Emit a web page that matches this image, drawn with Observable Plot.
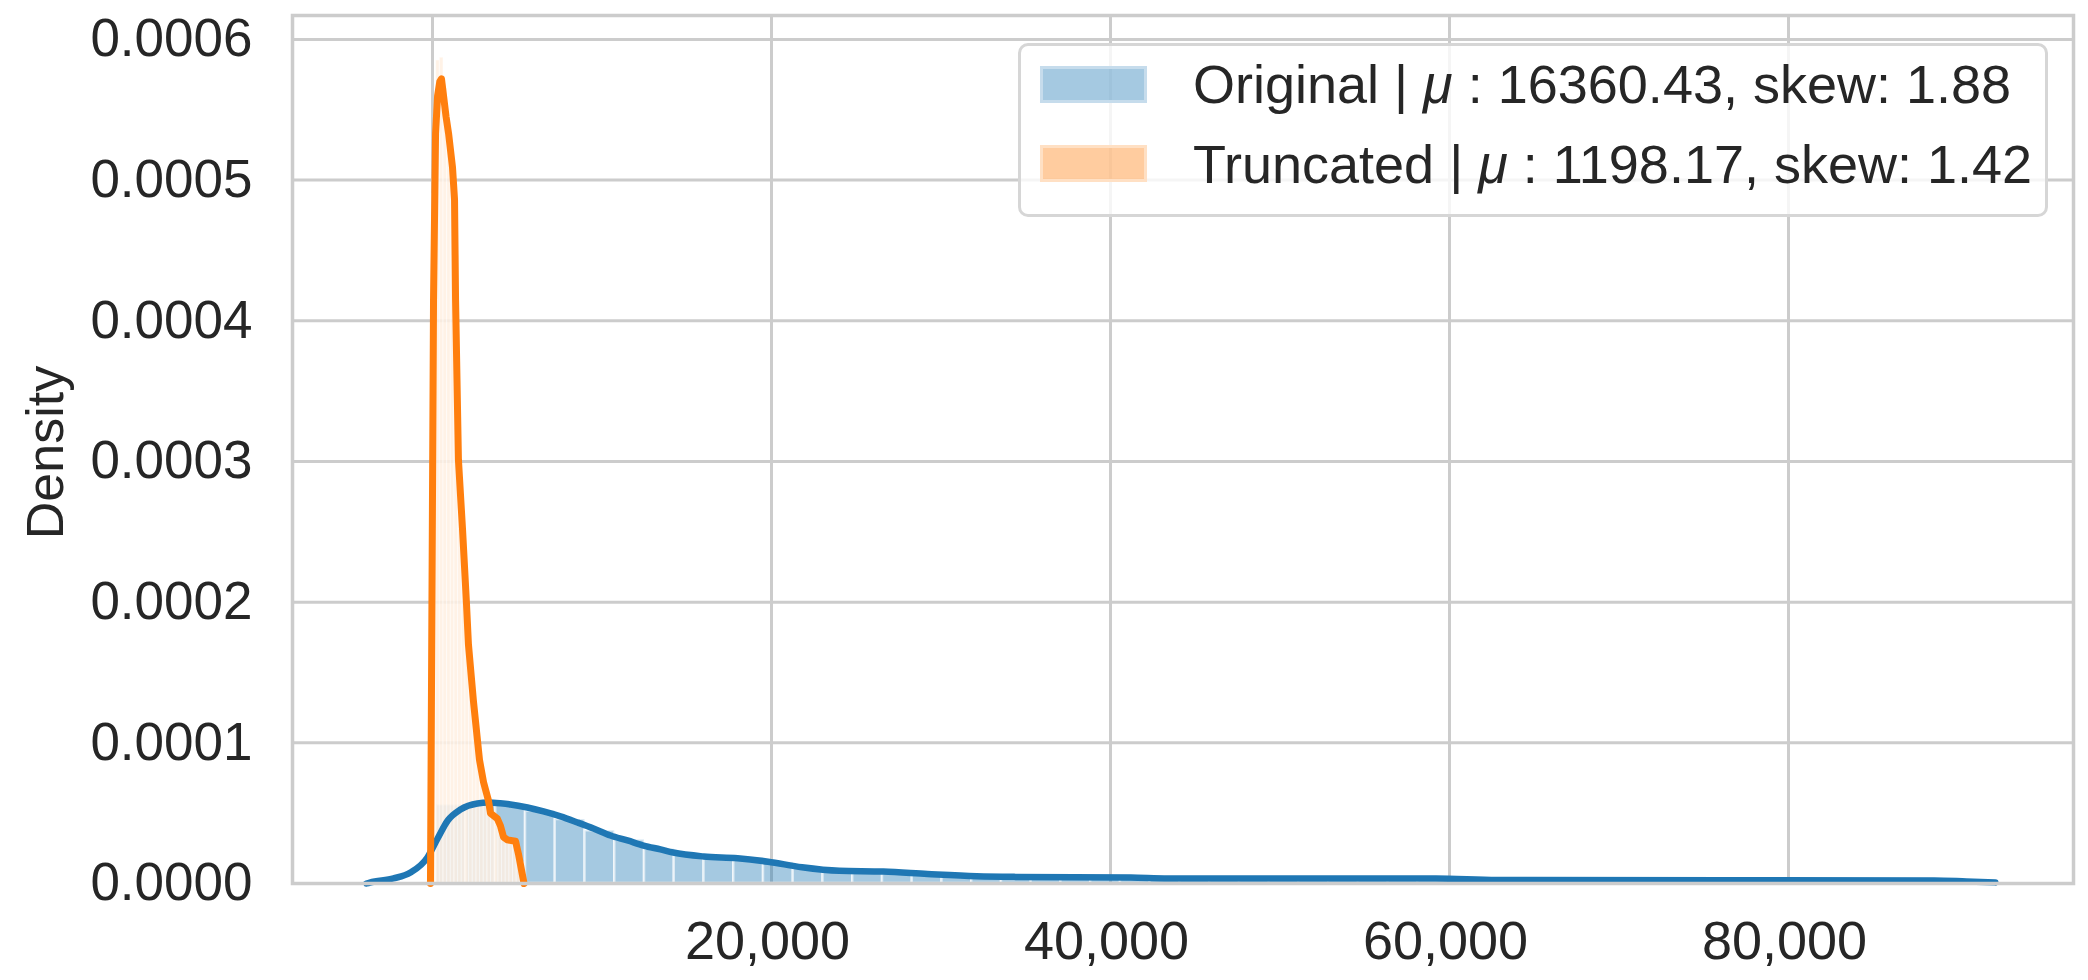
<!DOCTYPE html>
<html><head><meta charset="utf-8">
<script src="https://cdn.jsdelivr.net/npm/d3@7"></script>
<script src="https://cdn.jsdelivr.net/npm/@observablehq/plot@0.6"></script>
<style>
html,body{margin:0;padding:0;background:#fff;}
#wrap{position:relative;width:2088px;height:980px;font-family:"Liberation Sans",Arial,sans-serif;color:#262626;}
#legend{position:absolute;left:1018px;top:43px;width:1030px;height:174px;box-sizing:border-box;border:3px solid #d6d6d6;border-radius:10px;background:rgba(255,255,255,0.8);}
.sw{position:absolute;left:19px;width:107px;height:37px;box-sizing:border-box;}
.lt{position:absolute;left:172px;font-size:54px;line-height:54px;white-space:nowrap;}
.mu{font-style:italic;}
</style></head>
<body>
<div id="wrap"></div>
<script>
const xTickValues = [0, 20000, 40000, 60000, 80000];
const yTickValues = [0, 0.0001, 0.0002, 0.0003, 0.0004, 0.0005, 0.0006];

// Original histogram (density)
const origBinEdges = [222, 1977, 3732, 5487, 7242, 8997, 10752, 12507, 14262, 16017, 17772, 19527, 21282, 23037, 24792, 26547, 28302, 30057, 31812, 33567, 35322, 37077, 38832, 40587, 42342, 44097, 45852, 47607, 49362, 51117, 52872, 54627, 56382, 58137, 59892, 61647, 63402, 65157, 66912, 68667, 70422, 72177, 73932, 75687, 77442, 79197, 80952, 82707, 84462, 86217, 87972];
const origBinDensity = [5.6e-5, 5.75e-5, 5.6e-5, 5.15e-5, 4.55e-5, 3.75e-5, 3.1e-5, 2.45e-5, 2.05e-5, 1.9e-5, 1.8e-5, 1.5e-5, 1.15e-5, 0.9e-5, 0.85e-5, 0.78e-5, 0.66e-5, 0.55e-5, 0.5e-5, 0.46e-5, 0.44e-5, 0.42e-5, 0.42e-5, 0.4e-5, 0.37e-5, 0.36e-5, 0.35e-5, 0.36e-5, 0.37e-5, 0.34e-5, 0.35e-5, 0.36e-5, 0.35e-5, 0.34e-5, 0.32e-5, 0.28e-5, 0.25e-5, 0.24e-5, 0.25e-5, 0.23e-5, 0.24e-5, 0.25e-5, 0.23e-5, 0.24e-5, 0.23e-5, 0.22e-5, 0.23e-5, 0.22e-5, 0.21e-5, 0.2e-5];

// Truncated histogram (density)
const truncBinEdges = [0, 216, 432, 648, 864, 1080, 1296, 1512, 1728, 1944, 2160, 2376, 2592, 2808, 3024, 3240, 3456, 3672, 3888, 4104, 4320, 4536, 4752, 4968, 5184, 5400];
const truncBinDensity = [4.9e-4, 5.85e-4, 5.87e-4, 5.65e-4, 5.35e-4, 5.05e-4, 4.1e-4, 2.9e-4, 2.4e-4, 1.95e-4, 1.5e-4, 1.2e-4, 0.95e-4, 0.78e-4, 0.62e-4, 0.52e-4, 0.48e-4, 0.45e-4, 0.38e-4, 0.32e-4, 0.31e-4, 0.31e-4, 0.30e-4, 0.24e-4, 0.15e-4];

// KDE curves
const origKdeX = [-3900, -3700, -2300, -1300, -300, 300, 900, 1650, 2650, 3300, 4000, 4600, 5600, 6550, 7550, 8550, 9500, 10500, 11500, 12450, 13450, 14200, 16000, 18000, 19800, 21800, 24000, 26600, 29200, 32100, 34400, 41200, 43400, 59200, 62800, 88600, 90500, 92200];
const origKdeY = [0, 0.07e-5, 0.36e-5, 0.78e-5, 1.85e-5, 3.2e-5, 4.48e-5, 5.26e-5, 5.69e-5, 5.75e-5, 5.70e-5, 5.62e-5, 5.40e-5, 5.12e-5, 4.77e-5, 4.34e-5, 3.91e-5, 3.41e-5, 3.06e-5, 2.70e-5, 2.42e-5, 2.20e-5, 1.92e-5, 1.80e-5, 1.55e-5, 1.15e-5, 0.9e-5, 0.85e-5, 0.68e-5, 0.52e-5, 0.47e-5, 0.42e-5, 0.36e-5, 0.35e-5, 0.25e-5, 0.22e-5, 0.15e-5, 0.08e-5];
const truncKdeX = [-120, 60, 180, 300, 430, 530, 650, 800, 950, 1180, 1300, 1360, 1530, 1770, 2000, 2120, 2420, 2770, 3010, 3300, 3420, 3830, 4010, 4190, 4420, 4900, 5070, 5400];
const truncKdeY = [0, 4.15e-4, 5.33e-4, 5.6e-4, 5.7e-4, 5.72e-4, 5.6e-4, 5.45e-4, 5.33e-4, 5.09e-4, 4.86e-4, 4.15e-4, 3.01e-4, 2.52e-4, 2.0e-4, 1.7e-4, 1.29e-4, 0.88e-4, 0.72e-4, 0.59e-4, 0.50e-4, 0.46e-4, 0.41e-4, 0.33e-4, 0.31e-4, 0.30e-4, 0.21e-4, 0];

const legendItems = [
  {name: "Original", mean: "16360.43", skew: "1.88"},
  {name: "Truncated", mean: "1198.17", skew: "1.42"}
];

const origBins = origBinDensity.map((d, i) => ({x1: origBinEdges[i], x2: origBinEdges[i + 1], y: d}));
const truncBins = truncBinDensity.map((d, i) => ({x1: truncBinEdges[i], x2: truncBinEdges[i + 1], y: d}));
const origKde = origKdeX.map((x, i) => ({x, y: origKdeY[i]}));
const truncKde = truncKdeX.map((x, i) => ({x, y: truncKdeY[i]}));

const fmt = d3.format(",");
const chart = Plot.plot({
  width: 2088, height: 980,
  marginLeft: 292, marginRight: 15, marginTop: 15, marginBottom: 97,
  x: {domain: [-8260, 96814]},
  y: {domain: [0, 0.000617]},
  style: {fontFamily: "'Liberation Sans', Arial, sans-serif", fontSize: "53px", color: "#262626", background: "white"},
  marks: [
    Plot.gridX(xTickValues, {stroke: "#cccccc", strokeOpacity: 1, strokeWidth: 3}),
    Plot.gridY(yTickValues, {stroke: "#cccccc", strokeOpacity: 1, strokeWidth: 3}),
    Plot.rect(origBins, {x1: "x1", x2: "x2", y1: 0, y2: "y", fill: "#1f77b4", fillOpacity: 0.4, stroke: "white", strokeOpacity: 0.6, strokeWidth: 2.5}),
    Plot.rect(truncBins, {x1: "x1", x2: "x2", y1: 0, y2: "y", fill: "#fff0e2", fillOpacity: 0.85, stroke: "white", strokeOpacity: 0.5, strokeWidth: 1}),
    Plot.line(origKde, {x: "x", y: "y", stroke: "#1f77b4", strokeWidth: 6.5, curve: "monotone-x"}),
    Plot.line(truncKde, {x: "x", y: "y", stroke: "#ff7f0e", strokeWidth: 7, curve: "linear", strokeLinejoin: "round"}),
    Plot.frame({stroke: "#cccccc", strokeWidth: 3.5}),
    Plot.axisX(xTickValues, {tickSize: 0, tickPadding: 37, dx: -4, tickFormat: d => d === 0 ? "" : fmt(d), fontSize: 54, label: null}),
    Plot.axisY(yTickValues, {tickSize: 0, tickPadding: 40, tickFormat: d3.format(".4f"), fontSize: 53, label: null}),
    Plot.text(["Density"], {text: d => d, frameAnchor: "left", textAnchor: "middle", lineAnchor: "middle", dx: -246, dy: 3, rotate: -90, fontSize: 52, fill: "#262626"})
  ]
});
const wrap = document.getElementById("wrap");
wrap.appendChild(chart);

const legend = document.createElement("div");
legend.id = "legend";
const swatchStyles = [
  {bg: "rgba(31,119,180,0.4)", border: "#c6dcec"},
  {bg: "rgba(255,127,14,0.4)", border: "#ffe0c4"}
];
legendItems.forEach((it, i) => {
  const sw = document.createElement("div");
  sw.className = "sw";
  sw.style.top = (20 + i * 79) + "px";
  sw.style.background = swatchStyles[i].bg;
  sw.style.border = "3px solid " + swatchStyles[i].border;
  legend.appendChild(sw);
  const t = document.createElement("div");
  t.className = "lt";
  t.style.top = (11 + i * 80) + "px";
  t.innerHTML = it.name + " | <span class=\"mu\">μ</span> : " + it.mean + ", skew: " + it.skew;
  legend.appendChild(t);
});
wrap.appendChild(legend);
</script>
</body></html>
